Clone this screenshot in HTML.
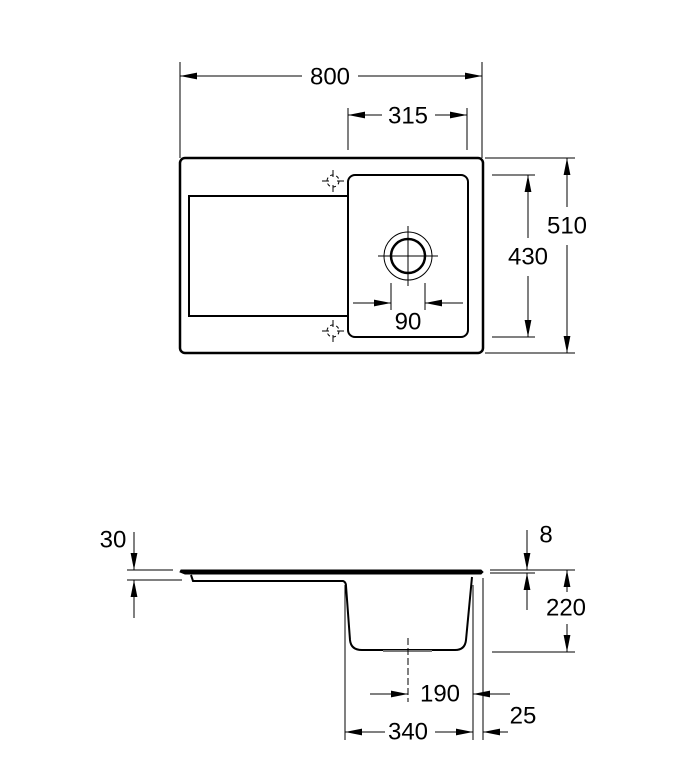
<!DOCTYPE html>
<html><head><meta charset="utf-8"><style>
html,body{margin:0;padding:0;background:#fff}
svg{display:block}
text{font-family:"Liberation Sans",sans-serif;font-size:24px;fill:#000}
</style></head><body>
<svg width="680" height="778" viewBox="0 0 680 778" xmlns="http://www.w3.org/2000/svg">
<defs>
<marker id="a" viewBox="0 0 10 4" refX="10" refY="2" markerWidth="17" markerHeight="7" markerUnits="userSpaceOnUse" orient="auto-start-reverse"><path d="M0,0L10,2L0,4z" fill="#000"/></marker>
</defs>
<g stroke="#000" stroke-width="1" fill="none">
<line x1="180" y1="62" x2="180" y2="158"/>
<line x1="482" y1="62" x2="482" y2="158"/>
<line x1="180" y1="76" x2="302" y2="76" marker-start="url(#a)"/>
<line x1="358" y1="76" x2="482" y2="76" marker-end="url(#a)"/>
<line x1="348" y1="108" x2="348" y2="150"/>
<line x1="467" y1="108" x2="467" y2="150"/>
<line x1="348" y1="115" x2="382" y2="115" marker-start="url(#a)"/>
<line x1="435" y1="115" x2="467" y2="115" marker-end="url(#a)"/>
<line x1="485" y1="158" x2="575" y2="158"/>
<line x1="485" y1="353" x2="575" y2="353"/>
<line x1="567" y1="158" x2="567" y2="207" marker-start="url(#a)"/>
<line x1="567" y1="245" x2="567" y2="353" marker-end="url(#a)"/>
<line x1="492" y1="175" x2="535" y2="175"/>
<line x1="492" y1="337" x2="535" y2="337"/>
<line x1="528" y1="175" x2="528" y2="238" marker-start="url(#a)"/>
<line x1="528" y1="276" x2="528" y2="337" marker-end="url(#a)"/>
<rect x="180" y="158" width="303" height="195" rx="5" stroke-width="2.5"/>
<path d="M348,196 H189 V316 H348" stroke-width="2"/>
<rect x="348" y="175" width="120" height="162" rx="7" stroke-width="2"/>
<circle cx="408" cy="256" r="24"/>
<circle cx="408" cy="256" r="17" stroke-width="2.5"/>
<line x1="378" y1="256" x2="438" y2="256"/>
<line x1="408" y1="226" x2="408" y2="286"/>
<line x1="391" y1="283" x2="391" y2="310"/>
<line x1="425" y1="283" x2="425" y2="310"/>
<line x1="353" y1="303" x2="391" y2="303" marker-end="url(#a)"/>
<line x1="463" y1="303" x2="425" y2="303" marker-end="url(#a)"/>
<g stroke-width="1">
<circle cx="333" cy="181" r="6" stroke-dasharray="3.5 2.8"/>
<path d="M333,177v-7M333,185v7M329,181h-7M337,181h7" stroke-dasharray="0"/>
<circle cx="333" cy="331" r="6" stroke-dasharray="3.5 2.8"/>
<path d="M333,327v-7M333,335v7M329,331h-7M337,331h7"/>
</g>
<path d="M181,570 H481 L483,572 L481,574 H185 L180,572 Z" fill="#000" stroke-width="1"/>
<path d="M191,575 L193,581 H343 Q346,582 346,586 L350,640 Q351,650 362,650 H455 Q465,650 466,640 L472,577" stroke-width="2"/>
<path d="M383,651 H432" stroke-width="2" stroke="#777"/>
<line x1="408" y1="638" x2="408" y2="702" stroke-dasharray="7 3"/>
<line x1="345" y1="585" x2="345" y2="740"/>
<line x1="473" y1="585" x2="473" y2="740"/>
<line x1="483" y1="578" x2="483" y2="740"/>
<line x1="370" y1="694" x2="408" y2="694" marker-end="url(#a)"/>
<line x1="510" y1="694" x2="473" y2="694" marker-end="url(#a)"/>
<line x1="345" y1="732" x2="385" y2="732" marker-start="url(#a)"/>
<line x1="435" y1="732" x2="473" y2="732" marker-end="url(#a)"/>
<line x1="508" y1="732" x2="483" y2="732" marker-end="url(#a)"/>
<line x1="127" y1="570" x2="173" y2="570"/>
<line x1="127" y1="580" x2="182" y2="580"/>
<line x1="134" y1="532" x2="134" y2="570" marker-end="url(#a)"/>
<line x1="134" y1="618" x2="134" y2="580" marker-end="url(#a)"/>
<line x1="490" y1="570" x2="575" y2="570"/>
<line x1="490" y1="573" x2="535" y2="573"/>
<line x1="492" y1="652" x2="575" y2="652"/>
<line x1="527" y1="530" x2="527" y2="570" marker-end="url(#a)"/>
<line x1="527" y1="610" x2="527" y2="573" marker-end="url(#a)"/>
<line x1="567" y1="570" x2="567" y2="592" marker-start="url(#a)"/>
<line x1="567" y1="624" x2="567" y2="652" marker-end="url(#a)"/>
</g>
<g text-anchor="middle" dominant-baseline="central">
<text x="330" y="77">800</text>
<text x="408" y="116">315</text>
<text x="567" y="226">510</text>
<text x="528" y="257">430</text>
<text x="408" y="322">90</text>
<text x="113" y="540">30</text>
<text x="546" y="535">8</text>
<text x="566" y="608">220</text>
<text x="440" y="694">190</text>
<text x="408" y="732">340</text>
<text x="523" y="716">25</text>
</g>
</svg>
</body></html>
